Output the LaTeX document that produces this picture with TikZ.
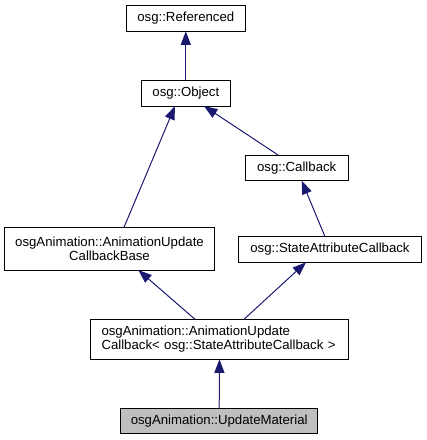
\documentclass[tikz,border=0pt]{standalone}
\usepackage{fontspec}
\setmainfont{Liberation Sans}
\usetikzlibrary{arrows.meta,calc}
\definecolor{edgeblue}{HTML}{191970}
\definecolor{hlgray}{HTML}{BFBFBF}
\newcommand{\clsfont}{\fontsize{13.2pt}{14.5pt}\selectfont}
\tikzset{
  cls/.style={draw=black, line width=0.9pt, fill=white, inner sep=0pt, outer sep=0pt,
    font=\clsfont},
  inh/.style={draw=edgeblue, line width=1pt, -{Triangle[length=13.5pt,width=10pt]}},
}
\begin{document}
\begin{tikzpicture}[x=1pt,y=-1pt]
\useasboundingbox (0,0) rectangle (427,440);
\node[cls, minimum width=119pt, minimum height=25.6pt] (ref) at (185.8,18.5) {osg::Referenced};
\node[cls, minimum width=89.7pt, minimum height=25.7pt] (obj) at (185.8,93.2) {osg::Object};
\node[cls, minimum width=103.3pt, minimum height=25.7pt] (cb) at (296.7,167.8) {osg::Callback};
\node[cls, minimum width=209.6pt, minimum height=42.7pt, align=center] (aucb) at (109.5,248.7) {osgAnimation::AnimationUpdate\\CallbackBase};
\node[cls, minimum width=183.4pt, minimum height=25.6pt] (sac) at (330,249.5) {osg::StateAttributeCallback};
\node[cls, minimum width=257.6pt, minimum height=40pt, align=left, text width=236pt] (auc) at (219.5,339.3) {osgAnimation::AnimationUpdate\\Callback< osg::StateAttributeCallback >};
\node[cls, fill=hlgray, minimum width=197pt, minimum height=25pt] (um) at (219.2,420.8) {osgAnimation::UpdateMaterial};
\draw[inh] (obj.north) -- (ref.south);
\draw[inh] ($(aucb.north)+(14.5,0)$) -- ($(obj.south)+(-10.8,0)$);
\draw[inh] ($(cb.north)+(-18.7,0)$) -- ($(obj.south)+(18.2,0)$);
\draw[inh] ($(sac.north)+(-5,0)$) -- ($(cb.south)+(5,0)$);
\draw[inh] ($(auc.north)+(-24.5,0)$) -- ($(aucb.south)+(28.8,0)$);
\draw[inh] ($(auc.north)+(24.5,0)$) -- ($(sac.south)+(-24,0)$);
\draw[inh] (um.north) -- (auc.south);
\end{tikzpicture}
\end{document}
